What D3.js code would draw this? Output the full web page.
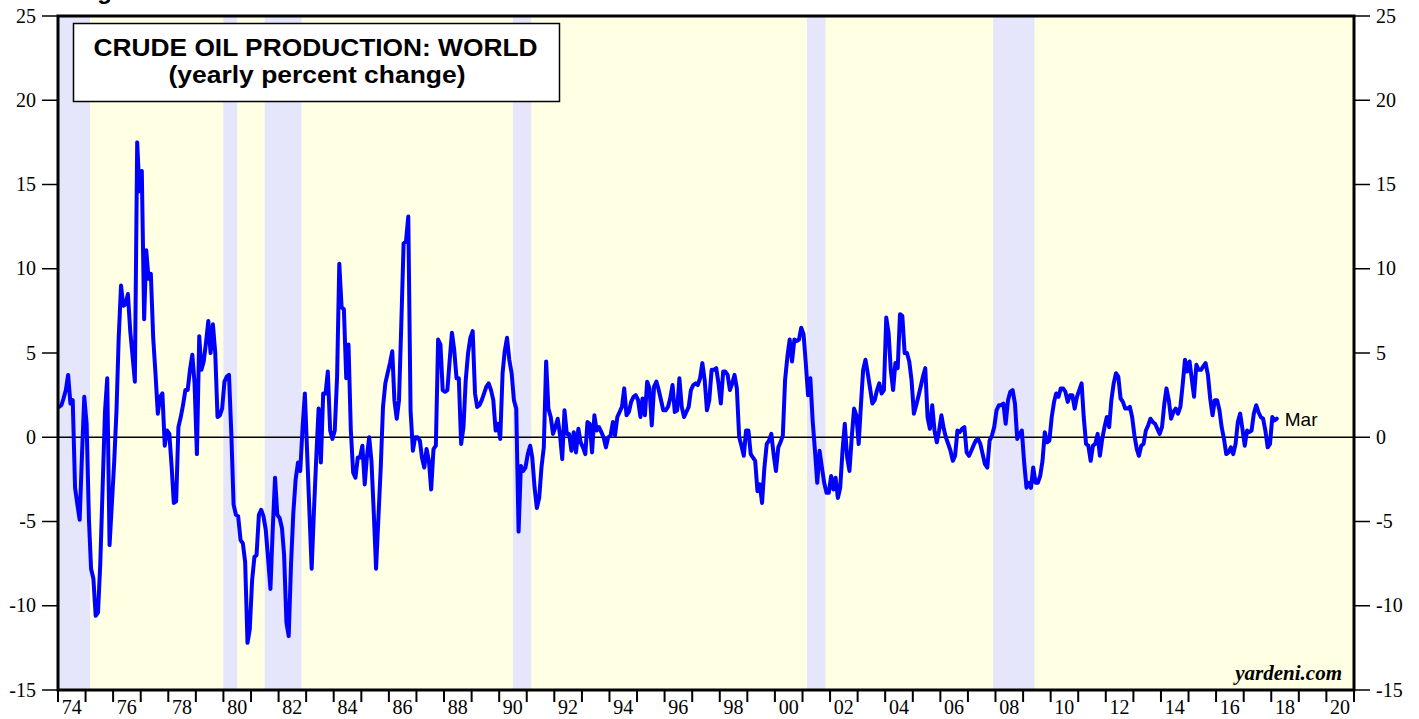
<!DOCTYPE html>
<html>
<head>
<meta charset="utf-8">
<script src="https://cdn.jsdelivr.net/npm/d3@7"></script>
<style>
  body { margin: 0; background: #fff; }
  #chart-container { width: 1419px; height: 719px; }
</style>
</head>
<body>
<div id="chart-container"></div>
<script>
// monthly yoy % change, first value = Jan 1974
const startMonth = "1974-01";

const prod1970s = [
  1.8, 1.9, 2.3, 2.8, 3.7, 2.0, 2.2, -3.0, -4.0, -4.9, -1.0, 2.4,
  0.8, -4.9, -7.8, -8.4, -10.6, -10.4, -7.5, -3.0, 1.5, 3.5, -6.4, -4.0,
  -1.5, 1.6, 5.9, 9.0, 7.8, 7.9, 8.5, 6.3, 4.8, 3.3, 17.5, 14.6,
  15.8, 7.0, 11.1, 9.4, 9.7, 5.9, 3.8, 1.4, 2.4, 2.6, -0.5, 0.4,
  0.2, -1.8, -3.9, -3.8, 0.6, 1.2, 1.9, 2.8, 2.8, 4.0, 4.9, 3.2,
  -1.0, 6.0, 4.0, 4.5, 5.6, 6.9, 5.0, 6.7, 5.0, 1.2, 1.3, 1.7
];
const prod1980s = [
  3.3, 3.6, 3.7, 0.2, -4.0, -4.6, -4.7, -6.1, -6.3, -7.4, -12.2, -11.4,
  -8.5, -7.1, -7.0, -4.6, -4.3, -4.7, -5.5, -7.2, -9.0, -5.5, -2.4, -4.6,
  -4.8, -5.4, -7.0, -11.0, -11.8, -7.5, -4.5, -2.5, -1.5, -2.0, 0.6, 2.6,
  -1.0, -4.6, -7.8, -4.3, -1.2, 1.7, -1.5, 2.6, 2.6, 3.9, 0.4, -0.1,
  0.4, 3.6, 10.3, 7.7, 7.6, 3.5, 5.5, 0.4, -2.1, -2.4, -1.2, -1.2,
  -0.5, -2.8, -1.2, 0.0, -1.4, -4.5, -7.8, -4.8, -1.8, 1.8, 3.2, 3.8,
  4.4, 5.1, 2.2, 1.1, 2.2, 6.8, 11.5, 11.6, 13.1, 1.6, -0.8, 0.0,
  0.0, -0.2, -1.2, -1.8, -0.7, -1.4, -3.1, -0.7, -0.5, 5.8, 5.5, 2.8,
  2.7, 2.8, 4.5, 6.2, 5.2, 3.5, 3.5, -0.4, 0.6, 3.4, 5.0, 5.9,
  6.3, 2.6, 1.8, 1.9, 2.2, 2.6, 3.0, 3.2, 2.8, 2.2, 0.4, 0.8
];
const prod1990s = [
  -0.1, 3.8, 5.1, 5.9, 4.6, 3.8, 2.2, 1.7, -5.6, -1.7, -2.0, -1.8,
  -1.0, -0.5, -1.2, -3.0, -4.2, -3.6, -1.8, -0.6, 4.5, 1.7, 1.2, 0.2,
  0.6, 1.1, 0.2, -1.3, 1.6, 0.2, 0.2, -0.8, 0.3, -0.9, 0.5, -0.3,
  -0.6, -1.0, 0.9, 0.8, -0.9, 1.3, 0.4, 0.6, 0.3, 0.0, -0.6, 0.0,
  0.1, 0.9, 0.1, 1.2, 1.5, 1.8, 2.9, 1.3, 1.5, 2.1, 2.4, 2.5,
  2.2, 1.2, 2.3, 1.3, 3.3, 2.9, 0.7, 3.0, 3.3, 2.8, 2.2, 1.6,
  1.6, 1.8, 2.3, 3.1, 1.5, 1.6, 3.5, 1.8, 1.2, 1.5, 1.8, 2.8,
  3.1, 3.2, 3.1, 3.5, 4.4, 3.4, 1.6, 2.2, 4.0, 4.0, 4.1, 3.2,
  2.0, 3.9, 3.9, 3.7, 2.8, 3.2, 3.7, 2.9, 0.0, -0.5, -1.1, 0.4,
  0.4, -1.0, -1.2, -1.4, -3.2, -2.8, -3.9, -1.8, -0.4, -0.2, 0.2, -1.0
];
const prod2000s = [
  -2.0, -0.6, -0.3, 0.1, 3.4, 4.8, 5.8, 4.5, 5.8, 5.7, 5.8, 6.5,
  6.1, 4.3, 2.5, 3.5, 1.0, -0.8, -2.7, -0.8, -1.8, -2.7, -3.3, -3.3,
  -2.3, -3.1, -2.4, -3.6, -3.0, -0.8, 0.8, -1.2, -2.0, 0.0, 1.7, 1.3,
  -0.4, 2.0, 4.0, 4.6, 3.8, 2.9, 2.0, 2.2, 2.8, 3.2, 2.6, 2.8,
  7.1, 6.2, 4.0, 2.8, 4.4, 4.1, 7.3, 7.2, 5.0, 5.0, 4.5, 3.4,
  1.4, 1.9, 2.4, 3.0, 3.6, 4.1, 1.2, 0.5, 1.9, 0.4, -0.3, 0.4,
  1.3, 0.5, 0.0, -0.4, -0.8, -1.4, -1.1, 0.4, 0.3, 0.5, 0.6, -0.9,
  -1.1, -0.8, -0.5, -0.2, -0.1, -0.4, -1.0, -1.6, -1.8, -0.2, 0.1, 0.6,
  1.6, 1.9, 1.9, 2.0, 0.8, 2.2, 2.7, 2.8, 2.0, -0.1, 0.2, 0.4,
  -1.5, -3.0, -2.7, -3.0, -1.8, -2.7, -2.7, -2.3, -1.4, 0.3, -0.3, -0.2
];
const prod2010s = [
  1.2, 2.1, 2.6, 2.4, 2.9, 2.9, 2.7, 2.1, 2.5, 2.5, 1.7, 2.4,
  2.8, 3.2, 1.2, -0.4, -0.5, -1.4, -0.5, -0.4, 0.2, -1.1, -0.1, 0.6,
  1.2, 0.6, 2.2, 3.2, 3.8, 3.6, 2.3, 2.1, 1.7, 1.7, 1.8, 1.2,
  0.1, -0.7, -1.1, -0.5, -0.4, 0.4, 0.7, 1.1, 0.9, 0.8, 0.5, 0.2,
  0.6, 2.0, 2.9, 2.2, 1.1, 1.5, 1.7, 1.4, 1.8, 3.1, 4.6, 3.9,
  4.5, 3.4, 2.4, 4.3, 4.0, 4.0, 4.2, 4.4, 3.7, 2.3, 1.3, 2.2,
  2.2, 1.6, 0.6, -0.1, -1.0, -0.9, -0.6, -1.0, -0.4, 0.9, 1.4, 0.5,
  -0.5, 0.4, 0.3, 0.4, 1.4, 1.9, 1.5, 1.2, 1.1, 0.4, -0.6, -0.4,
  1.2, 1.0, 1.1
];

// recession months (start, end)
const recessions = [
  ["1973-11", "1975-03"],
  ["1980-01", "1980-07"],
  ["1981-07", "1982-11"],
  ["1990-07", "1991-03"],
  ["2001-03", "2001-11"],
  ["2007-12", "2009-06"]
];

const yTicks = [-15, -10, -5, 0, 5, 10, 15, 20, 25];
const labelYears = [1974, 1976, 1978, 1980, 1982, 1984, 1986, 1988, 1990, 1992, 1994, 1996,
  1998, 2000, 2002, 2004, 2006, 2008, 2010, 2012, 2014, 2016, 2018, 2020];
const xDomain = ["1974-01", "2021-01"];

const W = 1419, H = 719;
const plot = { left: 58, right: 1354, top: 16, bottom: 690 };
const serif = "'Liberation Serif', 'Times New Roman', serif";
const sans = "'Liberation Sans', Arial, Helvetica, sans-serif";

const parseMonth = d3.timeParse("%Y-%m");

const values = [].concat(prod1970s, prod1980s, prod1990s, prod2000s, prod2010s);
const first = parseMonth(startMonth);
const series = values.map((v, i) => {
  const m = d3.timeMonth.offset(first, i);
  return { date: new Date(m.getFullYear(), m.getMonth(), 15), value: v };
});

const svg = d3.select("#chart-container")
    .append("svg")
    .attr("width", W)
    .attr("height", H)
    .style("display", "block");

const x = d3.scaleTime()
    .domain(xDomain.map(parseMonth))
    .range([plot.left, plot.right]);
const xc = x.copy().clamp(true);

const y = d3.scaleLinear()
    .domain([-15, 25])
    .range([plot.bottom, plot.top]);

// background
svg.append("rect")
    .attr("x", plot.left)
    .attr("y", plot.top)
    .attr("width", plot.right - plot.left)
    .attr("height", plot.bottom - plot.top)
    .attr("fill", "#ffffe3");

svg.selectAll(".recession")
    .data(recessions)
    .enter()
    .append("rect")
    .attr("class", "recession")
    .attr("x", d => xc(parseMonth(d[0])))
    .attr("y", plot.top)
    .attr("width", d => xc(parseMonth(d[1])) - xc(parseMonth(d[0])))
    .attr("height", plot.bottom - plot.top)
    .attr("fill", "#e5e5fb");

// zero line
svg.append("line")
    .attr("x1", plot.left)
    .attr("x2", plot.right)
    .attr("y1", y(0))
    .attr("y2", y(0))
    .attr("stroke", "#000")
    .attr("stroke-width", 1.5);

// title box
svg.append("rect")
    .attr("x", 73.5)
    .attr("y", 23.5)
    .attr("width", 486)
    .attr("height", 78)
    .attr("fill", "#fff")
    .attr("stroke", "#000")
    .attr("stroke-width", 1.5);

svg.append("text")
    .attr("x", 315.5)
    .attr("y", 56)
    .attr("text-anchor", "middle")
    .attr("textLength", 444)
    .attr("lengthAdjust", "spacingAndGlyphs")
    .style("font-family", sans)
    .style("font-size", "24px")
    .style("font-weight", "bold")
    .text("CRUDE OIL PRODUCTION: WORLD");

svg.append("text")
    .attr("x", 317)
    .attr("y", 83)
    .attr("text-anchor", "middle")
    .attr("textLength", 297)
    .attr("lengthAdjust", "spacingAndGlyphs")
    .style("font-family", sans)
    .style("font-size", "24px")
    .style("font-weight", "bold")
    .text("(yearly percent change)");

// series
svg.append("path")
    .datum(series)
    .attr("fill", "none")
    .attr("stroke", "#0000ff")
    .attr("stroke-width", 4)
    .attr("stroke-linejoin", "round")
    .attr("stroke-linecap", "round")
    .attr("d", d3.line()
        .x(d => x(d.date))
        .y(d => y(d.value))
    );

const last = series[series.length - 1];
svg.append("text")
    .attr("x", x(last.date) + 8)
    .attr("y", y(last.value) + 7)
    .style("font-family", sans)
    .style("font-size", "19px")
    .text(d3.timeFormat("%b")(last.date));

svg.append("text")
    .attr("x", 1342)
    .attr("y", 680)
    .attr("text-anchor", "end")
    .style("font-family", serif)
    .style("font-size", "21px")
    .style("font-weight", "bold")
    .style("font-style", "italic")
    .text("yardeni.com");

// y axes, both sides
svg.selectAll(".ytick-l")
    .data(yTicks)
    .enter()
    .append("line")
    .attr("x1", plot.left - 16)
    .attr("x2", plot.left)
    .attr("y1", d => y(d))
    .attr("y2", d => y(d))
    .attr("stroke", "#000")
    .attr("stroke-width", 1.5);

svg.selectAll(".ytick-r")
    .data(yTicks)
    .enter()
    .append("line")
    .attr("x1", plot.right)
    .attr("x2", plot.right + 16)
    .attr("y1", d => y(d))
    .attr("y2", d => y(d))
    .attr("stroke", "#000")
    .attr("stroke-width", 1.5);

svg.selectAll(".ylabel-l")
    .data(yTicks)
    .enter()
    .append("text")
    .attr("x", 36)
    .attr("y", d => y(d))
    .attr("dy", "0.33em")
    .attr("text-anchor", "end")
    .style("font-family", serif)
    .style("font-size", "20px")
    .text(d => d);

svg.selectAll(".ylabel-r")
    .data(yTicks)
    .enter()
    .append("text")
    .attr("x", 1376)
    .attr("y", d => y(d))
    .attr("dy", "0.33em")
    .style("font-family", serif)
    .style("font-size", "20px")
    .text(d => d);

// x axis: a tick at each January, labels on even years
const yearTicks = d3.timeYear.range(x.domain()[0], d3.timeYear.offset(x.domain()[1], 1));
svg.selectAll(".xtick")
    .data(yearTicks)
    .enter()
    .append("line")
    .attr("x1", d => x(d))
    .attr("x2", d => x(d))
    .attr("y1", plot.bottom)
    .attr("y2", plot.bottom + 12)
    .attr("stroke", "#000")
    .attr("stroke-width", 2);

svg.selectAll(".xlabel")
    .data(labelYears)
    .enter()
    .append("text")
    .attr("x", d => x(new Date(d, 6, 1)))
    .attr("y", 714)
    .attr("text-anchor", "middle")
    .style("font-family", serif)
    .style("font-size", "20px")
    .text(d => d3.timeFormat("%y")(new Date(d, 0, 1)));

// frame
svg.append("rect")
    .attr("x", plot.left)
    .attr("y", plot.top)
    .attr("width", plot.right - plot.left)
    .attr("height", plot.bottom - plot.top)
    .attr("fill", "none")
    .attr("stroke", "#000")
    .attr("stroke-width", 3);

// figure caption, cut off by the top edge
svg.append("text")
    .attr("x", 76)
    .attr("y", -1)
    .style("font-family", sans)
    .style("font-size", "24px")
    .style("font-weight", "bold")
    .text("Figure 1.");
</script>
</body>
</html>
